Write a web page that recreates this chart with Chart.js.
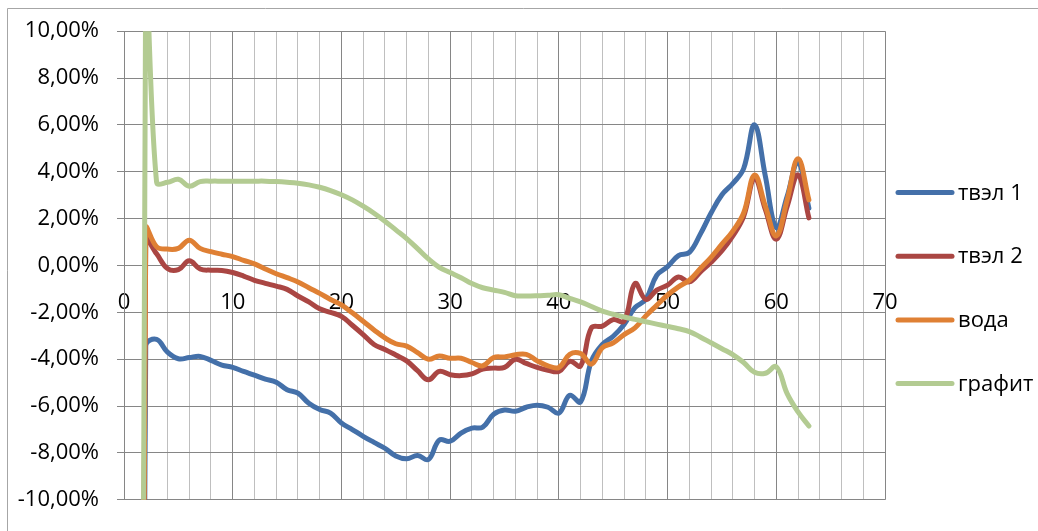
<!DOCTYPE html>
<html>
<head>
<meta charset="utf-8">
<script src="https://cdn.jsdelivr.net/npm/chart.js@4/dist/chart.umd.min.js"></script>
<style>
  html, body { margin: 0; padding: 0; background: #fff; }
  #wrap { width: 1038px; height: 531px; }
</style>
</head>
<body>
<div id="wrap"><canvas id="c" width="1038" height="531"></canvas></div>
<script>
// Measurement positions along the channel
const positions = [
   1,  2,  3,  4,  5,  6,  7,  8,  9, 10,
  11, 12, 13, 14, 15, 16, 17, 18, 19, 20,
  21, 22, 23, 24, 25, 26, 27, 28, 29, 30,
  31, 32, 33, 34, 35, 36, 37, 38, 39, 40,
  41, 42, 43, 44, 45, 46, 47, 48, 49, 50,
  51, 52, 53, 54, 55, 56, 57, 58, 59, 60,
  61, 62, 63
];

// Relative deviation, %
const tvel1 = [
  -100, -3.42, -3.15, -3.70, -3.98, -3.93, -3.88, -4.05, -4.25, -4.35,
  -4.52, -4.68, -4.85, -4.98, -5.30, -5.45, -5.88, -6.15, -6.30, -6.72,
  -7.00, -7.29, -7.55, -7.80, -8.13, -8.25, -8.11, -8.28, -7.45, -7.50,
  -7.15, -6.94, -6.90, -6.35, -6.17, -6.22, -6.05, -5.96, -6.05, -6.30,
  -5.54, -5.82, -4.07, -3.37, -3.02, -2.52, -1.80, -1.45, -0.42, -0.05,
   0.42,  0.56,  1.33,  2.24,  3.02,  3.50,  4.14,  6.00,  3.80,  1.61,
   2.95,  4.42,  2.45
];
const tvel2 = [
  -100,  1.08,  0.50, -0.13, -0.18,  0.20, -0.15, -0.20, -0.21, -0.30,
  -0.45, -0.63, -0.76, -0.88, -1.02, -1.30, -1.55, -1.85, -2.00, -2.17,
  -2.55, -2.95, -3.37, -3.58, -3.82, -4.07, -4.49, -4.88, -4.52, -4.66,
  -4.70, -4.63, -4.42, -4.38, -4.35, -4.00, -4.18, -4.35, -4.47, -4.52,
  -4.09, -4.28, -2.66, -2.59, -2.31, -2.38, -0.77, -1.45, -1.05, -0.84,
  -0.49, -0.70, -0.28,  0.14,  0.63,  1.26,  2.10,  3.72,  2.38,  1.12,
   2.52,  3.86,  2.03
];
const voda = [
  -100,  1.58,  0.80,  0.70,  0.73,  1.08,  0.73,  0.59,  0.48,  0.38,
   0.22,  0.07, -0.15, -0.35, -0.52, -0.70, -0.95, -1.19, -1.45, -1.68,
  -2.02, -2.38, -2.75, -3.09, -3.34, -3.44, -3.72, -4.00, -3.86, -3.96,
  -3.96, -4.14, -4.28, -3.93, -3.90, -3.81, -3.79, -4.07, -4.28, -4.35,
  -3.79, -3.76, -4.21, -3.51, -3.30, -2.95, -2.66, -2.15, -1.70, -1.26,
  -0.91, -0.63, -0.14,  0.35,  0.91,  1.47,  2.24,  3.86,  2.52,  1.26,
   2.80,  4.56,  2.80
];
const grafit = [
  -150, 13.00,  3.55,  3.55,  3.68,  3.38,  3.58,  3.60,  3.60,  3.60,
   3.60,  3.60,  3.60,  3.58,  3.55,  3.51,  3.44,  3.34,  3.20,  3.02,
   2.80,  2.53,  2.23,  1.89,  1.52,  1.15,  0.72,  0.28, -0.08, -0.30,
  -0.52, -0.77, -0.95, -1.05, -1.15, -1.29, -1.30, -1.29, -1.27, -1.25,
  -1.40, -1.55, -1.75, -1.95, -2.08, -2.20, -2.30, -2.40, -2.50, -2.60,
  -2.70, -2.82, -3.05, -3.30, -3.55, -3.80, -4.14, -4.56, -4.60, -4.32,
  -5.47, -6.25, -6.85
];

const seriesNames = ['твэл 1', 'твэл 2', 'вода', 'графит'];
const seriesValues = [tvel1, tvel2, voda, grafit];
const seriesColors = ['#4470A9', '#AA4643', '#DF8034', '#B3CB92'];

const xTicks = { min: 0, max: 70, step: 2, labelEvery: 10 };
const yTicks = { min: -10, max: 10, step: 2 };

const FONT = "'Open Sans', 'Noto Sans', sans-serif";
const GRID_MAJOR = '#868686';
const GRID_MINOR = '#BFBFBF';

const datasets = seriesValues.map((vals, i) => ({
  label: seriesNames[i],
  data: positions.map((x, k) => ({ x: x, y: vals[k] })),
  borderColor: seriesColors[i],
  backgroundColor: seriesColors[i],
  borderWidth: 5,
  borderCapStyle: 'round',
  borderJoinStyle: 'round',
  pointRadius: 0,
  pointHoverRadius: 0,
  tension: 0.4,
  fill: false,
  clip: 0,
  order: seriesValues.length - i   // later series are painted on top
}));

// White page with the outer frame lines
const framePlugin = {
  id: 'frame',
  beforeDraw(chart) {
    const ctx = chart.ctx;
    ctx.save();
    ctx.fillStyle = '#ffffff';
    ctx.fillRect(0, 0, chart.width, chart.height);
    ctx.strokeStyle = '#A6A6A6';
    ctx.lineWidth = 1;
    ctx.beginPath();
    ctx.moveTo(7.5, chart.height + 2);
    ctx.lineTo(7.5, 8.5);
    ctx.lineTo(chart.width + 2, 8.5);
    ctx.stroke();
    ctx.restore();
  }
};

// Legend on the right: line sample followed by the series name
const sideLegend = {
  id: 'sideLegend',
  afterDraw(chart, args, opts) {
    const ctx = chart.ctx;
    ctx.save();
    ctx.font = opts.font;
    ctx.textBaseline = 'middle';
    ctx.textAlign = 'left';
    chart.data.datasets.forEach((ds, i) => {
      const y = opts.top + i * opts.spacing;
      ctx.strokeStyle = ds.borderColor;
      ctx.lineWidth = opts.lineWidth;
      ctx.lineCap = 'round';
      ctx.beginPath();
      ctx.moveTo(opts.x, y);
      ctx.lineTo(opts.x + opts.length, y);
      ctx.stroke();
      ctx.fillStyle = '#000000';
      ctx.fillText(ds.label, opts.x + opts.length + opts.gap, y + 1);
    });
    ctx.restore();
  }
};

new Chart(document.getElementById('c'), {
  type: 'line',
  data: { datasets: datasets },
  plugins: [framePlugin, sideLegend],
  options: {
    responsive: false,
    animation: false,
    events: [],
    layout: { padding: { left: 0, top: 30, right: 153, bottom: 28 } },
    plugins: {
      legend: { display: false },
      tooltip: { enabled: false },
      sideLegend: {
        x: 898, top: 192.5, spacing: 63.7, length: 54, gap: 6,
        lineWidth: 5, font: '22px ' + FONT
      }
    },
    scales: {
      x: {
        type: 'linear',
        position: { y: 0 },
        min: xTicks.min,
        max: xTicks.max,
        ticks: {
          stepSize: xTicks.step,
          autoSkip: false,
          maxRotation: 0,
          padding: 24,
          color: '#000000',
          font: { family: FONT, size: 22 },
          callback: v => (v % xTicks.labelEvery === 0 ? String(v) : '')
        },
        grid: {
          drawTicks: false,
          lineWidth: 1,
          color: c => (c.tick && c.tick.value % xTicks.labelEvery === 0 ? GRID_MAJOR : GRID_MINOR)
        },
        border: { display: true, color: GRID_MAJOR, width: 1 }
      },
      y: {
        type: 'linear',
        position: 'left',
        min: yTicks.min,
        max: yTicks.max,
        afterFit: s => { s.width = 124; },
        ticks: {
          stepSize: yTicks.step,
          padding: 18,
          color: '#000000',
          font: { family: FONT, size: 22 },
          callback: v => v.toFixed(2).replace('.', ',') + '%'
        },
        grid: { color: GRID_MAJOR, lineWidth: 1, tickLength: 7 },
        border: { display: true, color: GRID_MAJOR, width: 1 }
      }
    }
  }
});
</script>
</body>
</html>
